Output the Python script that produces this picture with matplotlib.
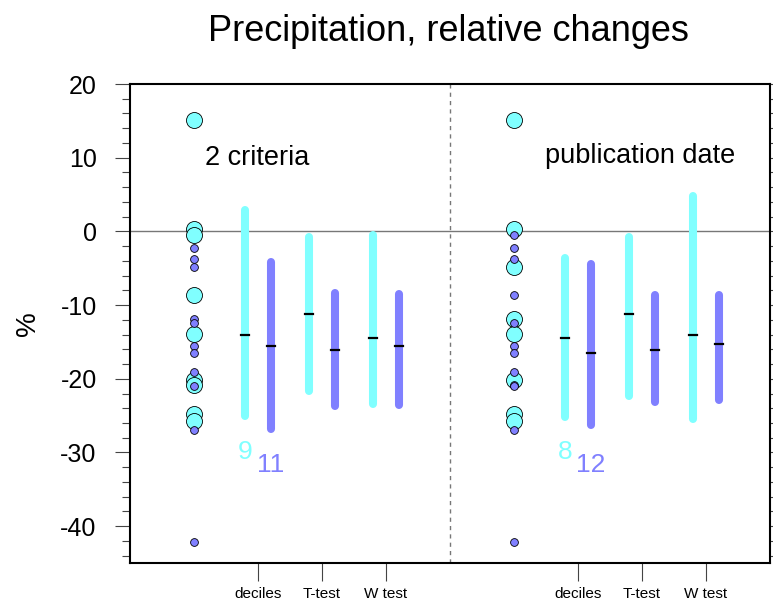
import numpy as np
import matplotlib
matplotlib.use("Agg")
import matplotlib.pyplot as plt

plt.rcParams['font.family'] = ['Liberation Sans', 'DejaVu Sans']
plt.rcParams['axes.unicode_minus'] = False

CYAN = '#80ffff'
PURPLE = '#8080ff'

# individual study values (%), per grouping
left_cyan = [15.1, 0.3, -0.45, -8.7, -13.9, -20.2, -20.8, -24.8, -25.7]
left_purple = [-2.3, -3.7, -4.8, -11.9, -12.4, -15.6, -16.5, -19.1, -21.0, -27.0, -42.2]
right_cyan = [15.1, 0.3, -4.8, -11.9, -13.9, -20.2, -24.8, -25.7]
right_purple = [-0.45, -2.3, -3.7, -8.7, -12.4, -15.6, -16.5, -19.1, -20.8, -21.0, -27.0, -42.2]

# ranges: (low, high, median) for deciles, T-test, W test
left_cyan_rng = [(-25.0, 2.9, -14.0), (-21.6, -0.7, -11.2), (-23.4, -0.5, -14.4)]
left_purple_rng = [(-26.8, -4.1, -15.6), (-23.7, -8.4, -16.1), (-23.6, -8.5, -15.5)]
right_cyan_rng = [(-25.2, -3.6, -14.5), (-22.3, -0.8, -11.2), (-25.4, 4.8, -14.1)]
right_purple_rng = [(-26.3, -4.4, -16.5), (-23.2, -8.6, -16.1), (-22.9, -8.7, -15.3)]

methods = ['deciles', 'T-test', 'W test']
panel_titles = ['2 criteria', 'publication date']

fig = plt.figure(figsize=(7.73, 6.03), dpi=100)
ax = fig.add_axes([130/773, 40/603, 640/773, 479/603])

ax.axhline(0, color='#777777', lw=1.0, zorder=1)
ax.axvline(5, color='#777777', lw=1.0, ls=(0, (3, 3)), zorder=1)

panels = [(0, left_cyan, left_purple, left_cyan_rng, left_purple_rng),
          (5, right_cyan, right_purple, right_cyan_rng, right_purple_rng)]

for off, cy, pu, cr, pr in panels:
    ax.plot([off + 1] * len(cy), cy, 'o', ms=11.5, mfc=CYAN, mec='k', mew=0.6, zorder=3)
    ax.plot([off + 1] * len(pu), pu, 'o', ms=5.6, mfc=PURPLE, mec='k', mew=0.6, zorder=4)
    for i in range(3):
        for rng, dx, col in ((cr[i], -0.2, CYAN), (pr[i], 0.2, PURPLE)):
            x = off + 2 + i + dx
            ax.plot([x, x], rng[:2], color=col, lw=5.8, solid_capstyle='round', zorder=2)
            ax.plot([x - 0.06, x + 0.06], [rng[2]] * 2, color='k', lw=1.6, zorder=5)
    # number of studies in each group
    ax.text(off + 1.8, -30.0, str(len(cy)), color=CYAN, fontsize=19, ha='center', va='center')
    ax.text(off + 2.2, -31.7, str(len(pu)), color=PURPLE, fontsize=19, ha='center', va='center')

ax.text(1.17, 10.0, panel_titles[0], fontsize=19.5, ha='left', va='center')
ax.text(6.48, 10.2, panel_titles[1], fontsize=19.5, ha='left', va='center')

ax.set_xlim(0, 10)
ax.set_ylim(-45, 20)
ax.set_xticks([2, 3, 4, 7, 8, 9])
ax.set_xticklabels(methods * 2, fontsize=11)
ax.set_yticks(np.arange(-40, 21, 10))
ax.set_yticks(np.arange(-44, 21, 2), minor=True)
ax.tick_params(axis='y', which='major', direction='out', length=11, width=0.8,
               color='#444444', labelsize=18, pad=13, right=True)
ax.tick_params(axis='y', which='minor', direction='out', length=5.5, width=0.8,
               color='#444444', right=True)
ax.tick_params(axis='x', direction='out', length=13, width=0.8, color='#444444', pad=4)
for s in ax.spines.values():
    s.set_linewidth(1.5)
ax.set_ylabel('%', fontsize=20, labelpad=14)

fig.text(0.58, 0.947, 'Precipitation, relative changes', fontsize=26, ha='center', va='center')

fig.savefig('out.png', dpi=100)
